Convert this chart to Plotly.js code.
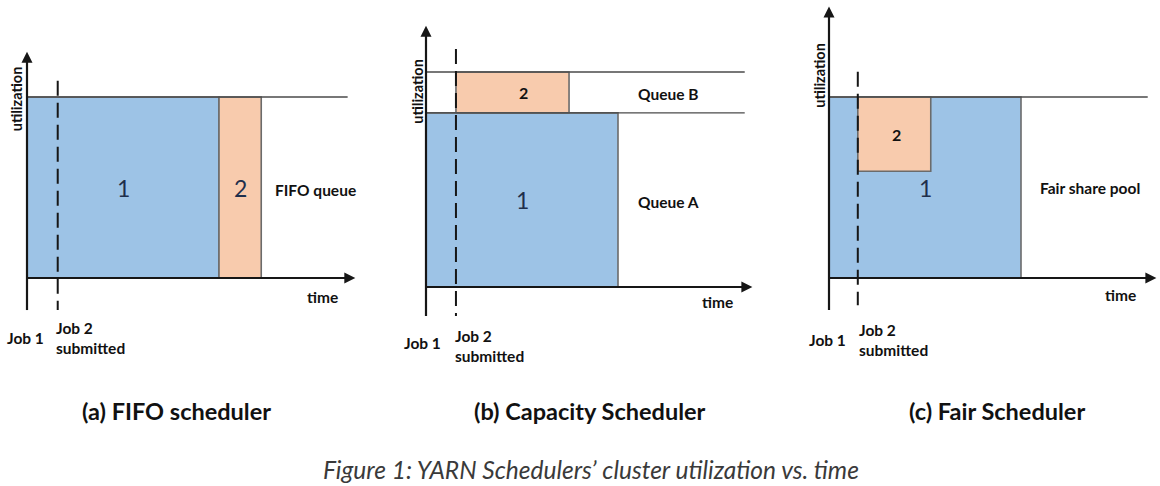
<!DOCTYPE html>
<html>
<head>
<meta charset="utf-8">
<script src="https://cdn.plot.ly/plotly-3.0.1.min.js"></script>
<style>html,body{margin:0;padding:0;background:#fff;}#chart{width:1160px;height:486px;}</style>
</head>
<body>
<div id="chart"></div>
<script>
// ---------- DATA ----------
// (a) FIFO scheduler
const fifoJobs = ['1', '2'];
const fifoStart = [0, 10];
const fifoEnd = [10, 12.2];
const fifoLow = [0, 0];
const fifoHigh = [1, 1];
const fifoCapacity = [1];
const fifoQueues = ['FIFO queue'];
const fifoSubmit = 1.6;

// (b) Capacity scheduler
const capJobs = ['1', '2'];
const capStart = [0, 1.56];
const capEnd = [10, 7.45];
const capLow = [0, 0.81];
const capHigh = [0.81, 1];
const capCapacity = [1, 0.81];
const capQueues = ['Queue B', 'Queue A'];
const capSubmit = 1.56;

// (c) Fair scheduler
const fairJobs = ['1', '2'];
const fairStart = [0, 1.5];
const fairEnd = [10, 5.3];
const fairLow = [0, 0.59];
const fairHigh = [1, 1];
const fairCapacity = [1];
const fairQueues = ['Fair share pool'];
const fairSubmit = 1.5;

const panelTitles = ['(a) FIFO scheduler', '(b) Capacity Scheduler', '(c) Fair Scheduler'];
const figureCaption = 'Figure 1: YARN Schedulers\u2019 cluster utilization vs. time';
const axisLabels = ['time', 'utilization'];
const eventLabels = ['Job 1', 'Job 2<br>submitted'];

// ---------- STYLE / LAYOUT ----------
const W = 1160, H = 486;
const FONT = 'Lato, "Open Sans", sans-serif';
const jobColors = ['#9dc3e6', '#f8cbad'];
const edgeColor = '#6b6b6b';
const axisColor = '#161616';
const LBL = 15.5;

// panel geometry (pixels): domain, origin, scale
const geo = [
  {d0: 0,   d1: 380,  ox: 27,  oy: 278, sx: 19.2, sy: 181},
  {d0: 390, d1: 770,  ox: 426, oy: 287, sx: 19.2, sy: 215},
  {d0: 785, d1: 1160, ox: 829, oy: 278, sx: 19.2, sy: 181}
];

const panels = [
  {jobs: fifoJobs, s: fifoStart, e: fifoEnd, lo: fifoLow, hi: fifoHigh, cap: fifoCapacity, queues: fifoQueues, submit: fifoSubmit,
   capEnd: 16.7, xTip: 17.1, yTop: 1.25, yBot: -0.177, dashTop: 1.09, dashBot: -0.177,
   queueX: 12.8, queueY: [0.486], timeXY: [15.4, -0.105], utilXY: [-0.55, 0.99], job1XY: [-0.1, -0.33], job2XY: [1.4, -0.33],
   twoBold: false, twoOffset: [0, 0]},
  {jobs: capJobs, s: capStart, e: capEnd, lo: capLow, hi: capHigh, cap: capCapacity, queues: capQueues, submit: capSubmit,
   capEnd: 16.6, xTip: 17.0, yTop: 1.215, yBot: -0.135, dashTop: 1.107, dashBot: -0.135,
   queueX: 10.94, queueY: [0.90, 0.395], timeXY: [15.2, -0.07], utilXY: [-0.45, 0.91], job1XY: [-0.16, -0.26], job2XY: [1.42, -0.274],
   twoBold: true, twoOffset: [0.55, 0]},
  {jobs: fairJobs, s: fairStart, e: fairEnd, lo: fairLow, hi: fairHigh, cap: fairCapacity, queues: fairQueues, submit: fairSubmit,
   capEnd: 16.6, xTip: 17.05, yTop: 1.5, yBot: -0.177, dashTop: 1.14, dashBot: -0.15,
   queueX: 10.9, queueY: [0.50], timeXY: [15.2, -0.094], utilXY: [-0.5, 1.12], job1XY: [-0.1, -0.34], job2XY: [1.46, -0.34],
   twoBold: true, twoOffset: [0.1, 0]}
];

const traces = [];
const annotations = [];
const layout = {
  width: W, height: H,
  margin: {l: 0, r: 0, t: 0, b: 0},
  paper_bgcolor: '#ffffff', plot_bgcolor: '#ffffff',
  showlegend: false,
  font: {family: FONT, color: '#111'},
  annotations: annotations
};

panels.forEach((p, i) => {
  const g = geo[i];
  const sfx = i === 0 ? '' : String(i + 1);
  const xa = 'x' + sfx, ya = 'y' + sfx;
  layout['xaxis' + sfx] = {
    domain: [g.d0 / W, g.d1 / W],
    range: [(g.d0 - g.ox) / g.sx, (g.d1 - g.ox) / g.sx],
    visible: false, fixedrange: true, anchor: ya
  };
  layout['yaxis' + sfx] = {
    domain: [0, 1],
    range: [(g.oy - H) / g.sy, g.oy / g.sy],
    visible: false, fixedrange: true, anchor: xa
  };

  // job rectangles
  p.jobs.forEach((name, j) => {
    traces.push({
      type: 'scatter', mode: 'lines', xaxis: xa, yaxis: ya,
      x: [p.s[j], p.e[j], p.e[j], p.s[j], p.s[j]],
      y: [p.lo[j], p.lo[j], p.hi[j], p.hi[j], p.lo[j]],
      fill: 'toself', fillcolor: jobColors[j],
      line: {color: edgeColor, width: 1.6},
      hoverinfo: 'skip', name: 'Job ' + name
    });
    const big = !(j === 1 && p.twoBold);
    const off = j === 1 ? p.twoOffset : [0, 0];
    annotations.push({
      xref: xa, yref: ya,
      x: (p.s[j] + p.e[j]) / 2 + off[0], y: (p.lo[j] + p.hi[j]) / 2 + off[1],
      xanchor: 'center', yanchor: 'middle',
      text: big ? name : '<b>' + name + '</b>', showarrow: false,
      font: {family: FONT, size: big ? 23 : 16, color: big ? '#1f2f4c' : '#111'}
    });
  });

  // capacity lines
  p.cap.forEach((c) => {
    traces.push({
      type: 'scatter', mode: 'lines', xaxis: xa, yaxis: ya,
      x: [0, p.capEnd], y: [c, c],
      line: {color: '#4a4a4a', width: 1.4}, hoverinfo: 'skip'
    });
  });

  // axes (drawn as arrows)
  traces.push({
    type: 'scatter', mode: 'lines', xaxis: xa, yaxis: ya,
    x: [0, p.xTip - 0.3], y: [0, 0], line: {color: axisColor, width: 2.2}, hoverinfo: 'skip'
  });
  traces.push({
    type: 'scatter', mode: 'lines', xaxis: xa, yaxis: ya,
    x: [0, 0], y: [p.yBot, p.yTop - 0.03], line: {color: axisColor, width: 2.2}, hoverinfo: 'skip'
  });
  annotations.push({xref: xa, yref: ya, axref: xa, ayref: ya, x: p.xTip, y: 0, ax: p.xTip - 1, ay: 0,
    text: '', showarrow: true, arrowhead: 2, arrowsize: 1.1, arrowwidth: 2, arrowcolor: axisColor, standoff: 0});
  annotations.push({xref: xa, yref: ya, axref: xa, ayref: ya, x: 0, y: p.yTop, ax: 0, ay: p.yTop - 0.1,
    text: '', showarrow: true, arrowhead: 2, arrowsize: 1.1, arrowwidth: 2, arrowcolor: axisColor, standoff: 0});

  // job 2 submission (dashed)
  traces.push({
    type: 'scatter', mode: 'lines', xaxis: xa, yaxis: ya,
    x: [p.submit, p.submit], y: [p.dashTop, p.dashBot],
    line: {color: axisColor, width: 2, dash: '15px,7px'}, hoverinfo: 'skip'
  });

  // queue labels
  p.queues.forEach((q, k) => {
    annotations.push({xref: xa, yref: ya, x: p.queueX, y: p.queueY[k], xanchor: 'left', yanchor: 'middle', text: '<b>' + q + '</b>',
      showarrow: false, font: {family: FONT, size: LBL, color: '#111'}});
  });
  // axis labels
  annotations.push({xref: xa, yref: ya, x: p.timeXY[0], y: p.timeXY[1], xanchor: 'center', yanchor: 'middle', text: '<b>' + axisLabels[0] + '</b>',
    showarrow: false, font: {family: FONT, size: LBL, color: '#111'}});
  annotations.push({xref: xa, yref: ya, x: p.utilXY[0], y: p.utilXY[1], xanchor: 'center', yanchor: 'middle', text: '<b>' + axisLabels[1] + '</b>', textangle: -90,
    showarrow: false, font: {family: FONT, size: 14.5, color: '#111'}});
  // event labels
  annotations.push({xref: xa, yref: ya, x: p.job1XY[0], y: p.job1XY[1], xanchor: 'center', yanchor: 'middle', text: '<b>' + eventLabels[0] + '</b>',
    showarrow: false, font: {family: FONT, size: LBL, color: '#111'}});
  annotations.push({xref: xa, yref: ya, x: p.job2XY[0], y: p.job2XY[1], xanchor: 'left', yanchor: 'middle', align: 'left',
    text: '<b>' + eventLabels[1] + '</b>', showarrow: false, font: {family: FONT, size: LBL, color: '#111'}});
});

// panel titles
const titleX = [176, 590, 997];
panelTitles.forEach((t, i) => {
  annotations.push({xref: 'paper', yref: 'paper', x: titleX[i] / W, y: 1 - 411 / H, xanchor: 'center', yanchor: 'middle',
    text: '<b>' + t + '</b>', showarrow: false, font: {family: FONT, size: 23.5, color: '#111'}});
});
annotations.push({xref: 'paper', yref: 'paper', x: 591 / W, y: 1 - 469 / H, xanchor: 'center', yanchor: 'middle',
  text: '<i>' + figureCaption + '</i>', showarrow: false, font: {family: FONT, size: 24.5, color: '#3a3a3a'}});

Plotly.newPlot('chart', traces, layout, {staticPlot: true, displayModeBar: false});
</script>
</body>
</html>
